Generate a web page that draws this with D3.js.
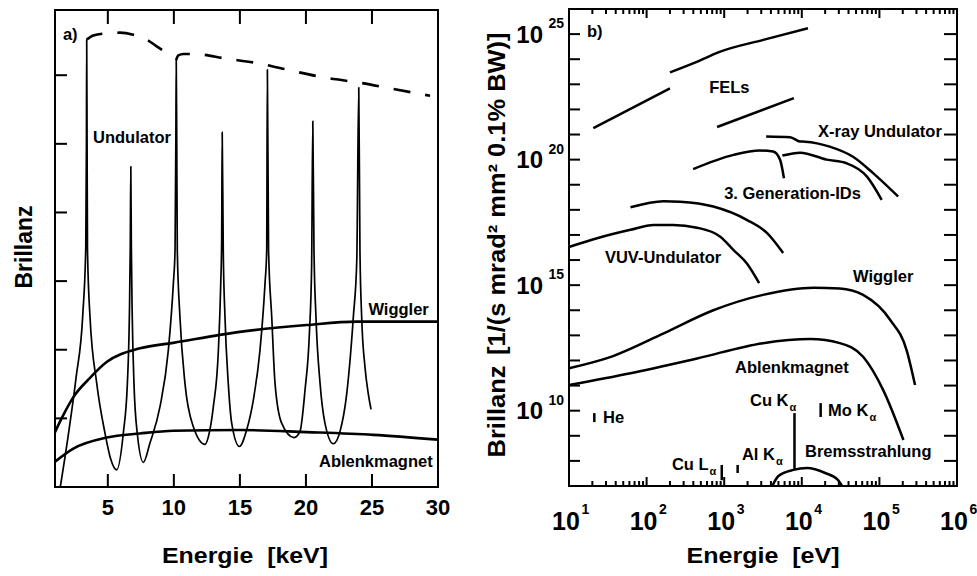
<!DOCTYPE html>
<html>
<head>
<meta charset="utf-8">
<script src="https://cdn.jsdelivr.net/npm/d3@7"></script>
<style>
body{margin:0;background:#fff;}
svg text{font-family:"Liberation Sans",Arial,Helvetica,sans-serif;font-weight:bold;fill:#000;}
.curve{fill:none;stroke:#000;stroke-linejoin:round;stroke-linecap:butt;}
.tk{stroke:#000;stroke-width:2;}
</style>
</head>
<body>
<script>
// ---- panel a) : energy in keV, brilliance in linear (arbitrary) units ----
var aXTicks = [5, 10, 15, 20, 25, 30];
var aTopTicks = [5, 10, 15, 20, 25];
var aLeftTicks = [1, 2, 3, 4, 5, 6];

var undulatorA = [[1.4,0],[2.0,0.75],[2.6,1.6],[3.1,2.5],[3.33,3.5],[3.38,5.0],[3.40,6.52],[3.43,5.0],[3.46,3.45],[3.65,2.48],[4.16,1.51],[4.79,0.78],[5.2,0.42],[5.67,0.25],
	[6.17,0.78],[6.48,1.51],[6.63,2.48],[6.70,3.5],[6.74,4.67],[6.78,3.5],[6.85,2.48],[6.98,1.51],[7.23,0.78],[7.69,0.36],
	[8.19,0.64],[8.95,1.17],[9.58,1.99],[9.96,2.96],[10.09,3.45],[10.15,5.0],[10.18,6.22],[10.22,5.0],[10.26,3.45],[10.46,2.48],[10.84,1.51],[11.47,0.88],[12.36,0.62],
	[12.61,0.73],[12.99,1.17],[13.37,1.99],[13.55,2.96],[13.62,3.6],[13.66,5.17],[13.74,3.45],[13.87,2.48],[14.12,1.51],[14.38,0.93],[14.96,0.59],
	[15.51,0.83],[16.02,1.27],[16.52,1.99],[16.90,2.96],[17.03,3.45],[17.08,6.08],[17.17,3.45],[17.41,2.48],[17.66,1.51],[18.16,0.93],[19.1,0.72],
	[19.55,0.81],[19.93,1.41],[20.26,2.23],[20.43,3.2],[20.52,5.33],[20.61,3.45],[20.76,2.48],[21.07,1.51],[21.44,0.93],[22.07,0.63],
	[22.58,0.81],[23.09,1.36],[23.59,2.48],[23.85,3.3],[24.0,5.82],[24.09,3.45],[24.22,2.48],[24.47,1.75],[24.72,1.36],[24.93,1.13]];

var envelopeA1 = [[3.40,6.52],[3.90,6.58],[4.91,6.61],[5.92,6.62],[6.93,6.59],[7.94,6.52],[8.70,6.42],[9.33,6.34]];
var envelopeA2 = [[10.17,6.22],[10.34,6.29],[10.72,6.31],[11.47,6.31],[14.0,6.24],[16.52,6.17],[19.04,6.06],[21.57,5.96],[24.09,5.89],[26.61,5.80],[29.4,5.70]];
var wigglerA = [[1.0,0.80],[1.5,1.0],[2.39,1.31],[3.65,1.59],[4.91,1.82],[7.44,2.02],[9.96,2.10],[15.0,2.26],[20.06,2.36],[23.84,2.41],[30,2.41]];
var ablenkA = [[1.0,0.37],[2.39,0.56],[4.91,0.72],[7.44,0.78],[9.96,0.82],[15.0,0.83],[20.06,0.80],[25.1,0.76],[30,0.69]];

// ---- panel b) : energy in eV, brilliance in 1/(s mrad^2 mm^2 0.1% BW) ----
var bXDecades = [1e1, 1e2, 1e3, 1e4, 1e5, 1e6];
var bXExponents = ['1', '2', '3', '4', '5', '6'];
var bYLabelled = [1e10, 1e15, 1e20, 1e25];
var bYExponents = ['10', '15', '20', '25'];

var felB1 = [[20.6,1.8e21],[200,6.9e22]];
var felB2 = [[200,3.0e23],[443,7.9e23],[890,2.0e24],[3190,5.9e24],[12000,1.7e25]];
var felB3 = [[810,2.0e21],[7900,2.8e22]];
var xrayUndB = [[3470,8.3e20],[7080,7.8e20],[9500,5.3e20],[11000,5.2e20],[22900,3.3e20],[45700,1.3e20],[83000,2.9e19],[174000,3.4e18]];
var genIdB1 = [[398,4.2e19],[1320,1.55e20],[2880,2.3e20],[4270,2.1e20],[5250,9.8e19],[5890,1.8e19]];
var genIdB2 = [[5620,1.45e20],[9550,1.9e20],[20900,1.0e20],[38000,7.1e19],[69200,2.1e19],[107000,2.5e18]];
var vuvB1 = [[62,1.26e18],[166,2.2e18],[269,2.1e18],[724,1.35e18],[1950,4.0e17],[3550,1.2e17],[5750,1.9e16]];
var vuvB2 = [[10.2,3.4e16],[23,7.4e16],[62,1.6e17],[123,2.5e17],[219,2.5e17],[447,1.95e17],[891,8.5e16],[1320,2.5e16],[1950,7.4e15],[2820,1.2e15]];
var wigglerB = [[10,4.9e11],[37,1.5e12],[166,1.2e13],[724,1.0e14],[3160,4.1e14],[14100,7.9e14],[30900,7.4e14],[61700,4.1e14],[138000,4.1e13],[224000,2.6e12],[288000,1.05e11]];
var ablenkB = [[10,1.05e11],[62,3.1e11],[447,1.2e12],[3160,4.9e12],[12900,7.1e12],[30900,4.9e12],[61700,1.4e12],[112000,6.6e10],[204000,6.8e8]];
var bremsB = [[4170,1e7],[5000,2.5e7],[7800,4.4e7],[11700,5.2e7],[20000,3.3e7],[29500,1.7e7],[33000,1e7]];
// characteristic lines: energy, lower and upper brilliance
var linesB = [[21.2,3.5e9,8e9],[930,1.7e7,6.9e7],[1490,3.3e7,6.9e7],[8050,4.6e7,8e9],[17500,5.6e9,2e10]];

var W = 977, H = 576;
var svg = d3.select('body').append('svg').attr('width', W).attr('height', H);

// inward tick marks, drawn from the scales
var ticksH = function(g, scale, values, y, len){
	g.append('g').selectAll('line').data(values).enter().append('line').classed('tk', true)
		.attr('x1', function(d){ return scale(d) }).attr('x2', function(d){ return scale(d) })
		.attr('y1', y).attr('y2', y + len);
};
var ticksV = function(g, scale, values, x, len){
	g.append('g').selectAll('line').data(values).enter().append('line').classed('tk', true)
		.attr('y1', function(d){ return scale(d) }).attr('y2', function(d){ return scale(d) })
		.attr('x1', x).attr('x2', x + len);
};

// ================= panel a =================
var xA = d3.scaleLinear().domain([1, 30]).range([55, 438]);
var yA = d3.scaleLinear().domain([0, 6.95]).range([487, 10]);
var gA = svg.append('g');

ticksH(gA, xA, aXTicks, 487, -13);
ticksH(gA, xA, aTopTicks, 10, 14);
ticksV(gA, yA, aLeftTicks, 55, 12);

gA.selectAll('.xl').data(aXTicks).enter().append('text')
	.attr('x', function(d){ return xA(d) }).attr('y', 515)
	.attr('text-anchor', 'middle').style('font-size', '22px')
	.text(d3.format('d'));

var lineA = d3.line()
	.x(function(d){ return xA(d[0]) })
	.y(function(d){ return yA(d[1]) })
	.curve(d3.curveMonotoneX);

gA.append('clipPath').attr('id', 'clipA').append('rect')
	.attr('x', 55).attr('y', 10).attr('width', 383).attr('height', 477);
var plotA = gA.append('g').attr('clip-path', 'url(#clipA)');

plotA.append('path').classed('curve', true).attr('d', lineA(undulatorA)).attr('stroke-width', 1.7);
plotA.append('path').classed('curve', true).attr('d', lineA(wigglerA)).attr('stroke-width', 2.6);
plotA.append('path').classed('curve', true).attr('d', lineA(ablenkA)).attr('stroke-width', 2.6);
[envelopeA1, envelopeA2].forEach(function(s){
	plotA.append('path').classed('curve', true).attr('d', lineA(s))
		.attr('stroke-width', 2.6).attr('stroke-dasharray', '17,15');
});

gA.append('rect').attr('x', 55).attr('y', 10).attr('width', 383).attr('height', 477)
	.attr('fill', 'none').attr('stroke', '#000').attr('stroke-width', 2);

var labelsA = [
	{t: 'a)', x: 1.6, y: 6.51, anchor: 'start'},
	{t: 'Undulator', x: 3.88, y: 5.01, anchor: 'start'},
	{t: 'Wiggler', x: 29.3, y: 2.50, anchor: 'end'},
	{t: 'Ablenkmagnet', x: 29.6, y: 0.29, anchor: 'end'}
];
gA.selectAll('.lab').data(labelsA).enter().append('text')
	.attr('x', function(d){ return xA(d.x) })
	.attr('y', function(d){ return yA(d.y) })
	.attr('text-anchor', function(d){ return d.anchor })
	.style('font-size', '16.5px')
	.text(function(d){ return d.t });

gA.append('text').attr('transform', 'translate(32,247) rotate(-90)')
	.attr('text-anchor', 'middle').style('font-size', '23px').text('Brillanz');
gA.append('text').attr('x', 245).attr('y', 563).attr('text-anchor', 'middle')
	.attr('textLength', 166).attr('lengthAdjust', 'spacingAndGlyphs')
	.style('font-size', '22px').style('white-space', 'pre').text('Energie  [keV]');

// ================= panel b =================
var xB = d3.scaleLog().domain([10, 1e6]).range([569, 957]);
var yB = d3.scaleLog().domain([1e7, 1e26]).range([486, 9]);
var isDecade = function(d){ var l = Math.log10(d); return Math.abs(l - Math.round(l)) < 1e-6 };
var yDecades = yB.ticks(20).filter(function(d){ return isDecade(d) && d > 1.5e7 && d < 0.7e26 });
var xMinor = xB.ticks().filter(function(d){ return !isDecade(d) });
var gB = svg.append('g');

ticksH(gB, xB, xMinor, 486, -5);
ticksH(gB, xB, bXDecades, 486, -9);
ticksH(gB, xB, xMinor, 9, 5);
ticksH(gB, xB, bXDecades, 9, 9);
ticksV(gB, yB, yDecades, 569, 11);
ticksV(gB, yB, yDecades, 957, -13);

var xLab = gB.selectAll('.xlab').data(bXDecades).enter().append('g')
	.attr('transform', function(d){ return 'translate(' + (xB(d) - 3) + ',530)' });
xLab.append('text').attr('text-anchor', 'middle').style('font-size', '25px').text('10');
xLab.append('text').attr('x', 15.5).attr('y', -16).style('font-size', '14px')
	.text(function(d, i){ return bXExponents[i] });

var yLab = gB.selectAll('.ylab').data(bYLabelled).enter().append('g')
	.attr('transform', function(d){ return 'translate(0,' + yB(d) + ')' });
yLab.append('text').attr('x', 543).attr('y', 8.5).attr('text-anchor', 'end').style('font-size', '24px').text('10');
yLab.append('text').attr('x', 564).attr('y', -6).attr('text-anchor', 'end').style('font-size', '14px')
	.text(function(d, i){ return bYExponents[i] });

var lineB = d3.line()
	.x(function(d){ return xB(d[0]) })
	.y(function(d){ return yB(d[1]) })
	.curve(d3.curveMonotoneX);

var curvesB = [felB1, felB2, felB3, xrayUndB, genIdB1, genIdB2, vuvB1, vuvB2, wigglerB, ablenkB, bremsB];
gB.selectAll('.cb').data(curvesB).enter().append('path').classed('curve', true)
	.attr('d', function(d){ return lineB(d) }).attr('stroke-width', 2.5);

gB.selectAll('.lineB').data(linesB).enter().append('line')
	.attr('x1', function(d){ return xB(d[0]) }).attr('x2', function(d){ return xB(d[0]) })
	.attr('y1', function(d){ return yB(d[1]) }).attr('y2', function(d){ return yB(d[2]) })
	.attr('stroke', '#000').attr('stroke-width', 2.5);

gB.append('rect').attr('x', 569).attr('y', 9).attr('width', 388).attr('height', 477)
	.attr('fill', 'none').attr('stroke', '#000').attr('stroke-width', 2);

var labelsB = [
	{t: 'b)', x: 17, y: 7.8e24},
	{t: 'FELs', x: 640, y: 4.6e22},
	{t: 'X-ray Undulator', x: 16200, y: 8.3e20},
	{t: '3. Generation-IDs', x: 1000, y: 2.7e18},
	{t: 'VUV-Undulator', x: 29, y: 7.6e15},
	{t: 'Wiggler', x: 45700, y: 1.35e15},
	{t: 'Ablenkmagnet', x: 1380, y: 3.3e11},
	{t: 'He', x: 27.4, y: 3.2e9},
	{t: 'Cu K', sub: 'α', x: 2150, y: 1.55e10},
	{t: 'Mo K', sub: 'α', x: 21800, y: 6.2e9},
	{t: 'Al K', sub: 'α', x: 1690, y: 1.1e8},
	{t: 'Cu L', sub: 'α', x: 212, y: 4.4e7},
	{t: 'Bremsstrahlung', x: 11000, y: 1.45e8}
];
var lb = gB.selectAll('.lab').data(labelsB).enter().append('text')
	.attr('x', function(d){ return xB(d.x) })
	.attr('y', function(d){ return yB(d.y) })
	.style('font-size', '16.5px')
	.text(function(d){ return d.t });
lb.filter(function(d){ return d.sub }).append('tspan')
	.attr('dy', 5).attr('dx', 1).style('font-size', '11px').text(function(d){ return d.sub });

var yt = gB.append('text').attr('transform', 'translate(505,245) rotate(-90)')
	.attr('text-anchor', 'middle').attr('textLength', 425).attr('lengthAdjust', 'spacingAndGlyphs')
	.style('font-size', '24px');
yt.append('tspan').text('Brillanz');
yt.append('tspan').attr('dx', 10).text('[1/(s mrad² mm² 0.1% BW)]');

gB.append('text').attr('x', 763).attr('y', 563).attr('text-anchor', 'middle')
	.attr('textLength', 153).attr('lengthAdjust', 'spacingAndGlyphs')
	.style('font-size', '22px').style('white-space', 'pre').text('Energie  [eV]');
</script>
</body>
</html>
